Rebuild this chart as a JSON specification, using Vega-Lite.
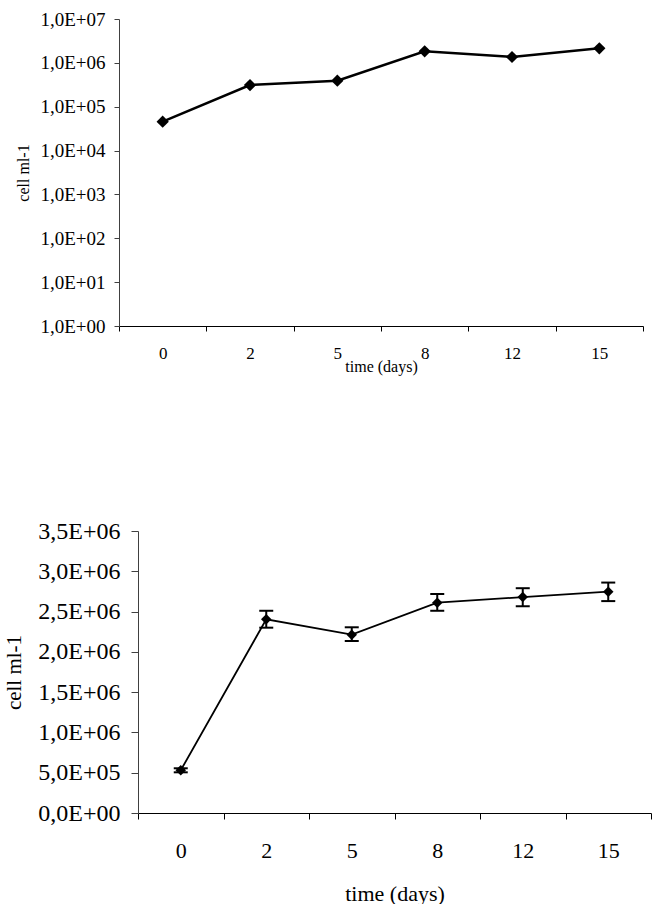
{
  "$schema": "https://vega.github.io/schema/vega-lite/v6.json",
  "padding": {"left": 3, "top": 10, "right": 0, "bottom": 0},
  "spacing": 145,
  "align": {"row": "none", "column": "all"},
  "config": {
    "view": {"stroke": null},
    "font": "Liberation Serif",
    "axis": {
      "grid": false,
      "labelColor": "#000000",
      "titleColor": "#000000",
      "titleFontWeight": "normal",
      "labelFont": "Liberation Serif",
      "titleFont": "Liberation Serif"
    }
  },
  "datasets": {
    "growth_log": [
      {"day": 0, "cells": 45500},
      {"day": 2, "cells": 312000},
      {"day": 5, "cells": 392000},
      {"day": 8, "cells": 1830000},
      {"day": 12, "cells": 1360000},
      {"day": 15, "cells": 2150000}
    ],
    "growth_mean": [
      {"day": 0, "cells": 530000, "lo": 505000, "hi": 555000},
      {"day": 2, "cells": 2404000, "lo": 2300000, "hi": 2510000},
      {"day": 5, "cells": 2213000, "lo": 2135000, "hi": 2305000},
      {"day": 8, "cells": 2610000, "lo": 2510000, "hi": 2718000},
      {"day": 12, "cells": 2680000, "lo": 2566000, "hi": 2790000},
      {"day": 15, "cells": 2747000, "lo": 2630000, "hi": 2860000}
    ]
  },
  "vconcat": [
    {
      "width": 524,
      "height": 307,
      "data": {"name": "growth_log"},
      "encoding": {
        "x": {
          "field": "day",
          "type": "ordinal",
          "scale": {"type": "band", "paddingInner": 0, "paddingOuter": 0},
          "axis": {
            "title": "time (days)",
            "labelAngle": 0,
            "tickBand": "extent",
            "domainColor": "#000000",
            "tickColor": "#000000",
            "tickSize": 5,
            "labelPadding": 14,
            "labelFontSize": 17,
            "titleFontSize": 16,
            "titlePadding": -3
          }
        },
        "y": {
          "field": "cells",
          "type": "quantitative",
          "scale": {"type": "log", "domain": [1, 10000000], "nice": false},
          "axis": {
            "title": "cell ml-1",
            "values": [1, 10, 100, 1000, 10000, 100000, 1000000, 10000000],
            "labelExpr": "'1,0E+0' + format(log(datum.value) / LN10, '.0f')",
            "domainColor": "#404040",
            "tickColor": "#404040",
            "tickSize": 5,
            "labelPadding": 9,
            "labelFontSize": 19,
            "titleFontSize": 16,
            "titlePadding": 8
          }
        }
      },
      "layer": [
        {"mark": {"type": "line", "color": "#000000", "strokeWidth": 2.5}},
        {"mark": {"type": "point", "shape": "diamond", "filled": true, "color": "#000000", "opacity": 1, "size": 150}}
      ]
    },
    {
      "width": 532,
      "height": 282,
      "data": {"name": "growth_mean"},
      "encoding": {
        "x": {
          "field": "day",
          "type": "ordinal",
          "scale": {"type": "band", "paddingInner": 0, "paddingOuter": 0, "range": [19, 532]},
          "axis": {
            "title": "time (days)",
            "labelAngle": 0,
            "tickBand": "extent",
            "domainColor": "#000000",
            "tickColor": "#000000",
            "tickSize": 6,
            "labelPadding": 21,
            "labelFontSize": 22,
            "titleFontSize": 22,
            "titlePadding": 22
          }
        },
        "y": {
          "field": "cells",
          "type": "quantitative",
          "scale": {"domain": [0, 3500000], "nice": false},
          "axis": {
            "title": "cell ml-1",
            "offset": -19,
            "values": [0, 500000, 1000000, 1500000, 2000000, 2500000, 3000000, 3500000],
            "labelExpr": "datum.value == 0 ? '0,0E+00' : (datum.value < 1000000 ? replace(format(datum.value / 100000, '.1f'), '.', ',') + 'E+05' : replace(format(datum.value / 1000000, '.1f'), '.', ',') + 'E+06')",
            "domainColor": "#404040",
            "tickColor": "#404040",
            "tickSize": 7,
            "labelPadding": 11,
            "labelFontSize": 24,
            "titleFontSize": 21,
            "titlePadding": 13
          }
        }
      },
      "layer": [
        {"mark": {"type": "line", "color": "#000000", "strokeWidth": 1.8}},
        {
          "mark": {"type": "rule", "color": "#000000", "strokeWidth": 2},
          "encoding": {
            "y": {"field": "lo", "type": "quantitative", "title": "cell ml-1"},
            "y2": {"field": "hi"}
          }
        },
        {
          "mark": {"type": "tick", "color": "#000000", "size": 14, "thickness": 2, "opacity": 1},
          "encoding": {"y": {"field": "lo", "type": "quantitative", "title": "cell ml-1"}}
        },
        {
          "mark": {"type": "tick", "color": "#000000", "size": 14, "thickness": 2, "opacity": 1},
          "encoding": {"y": {"field": "hi", "type": "quantitative", "title": "cell ml-1"}}
        },
        {"mark": {"type": "point", "shape": "diamond", "filled": true, "color": "#000000", "opacity": 1, "size": 110}}
      ]
    }
  ]
}
